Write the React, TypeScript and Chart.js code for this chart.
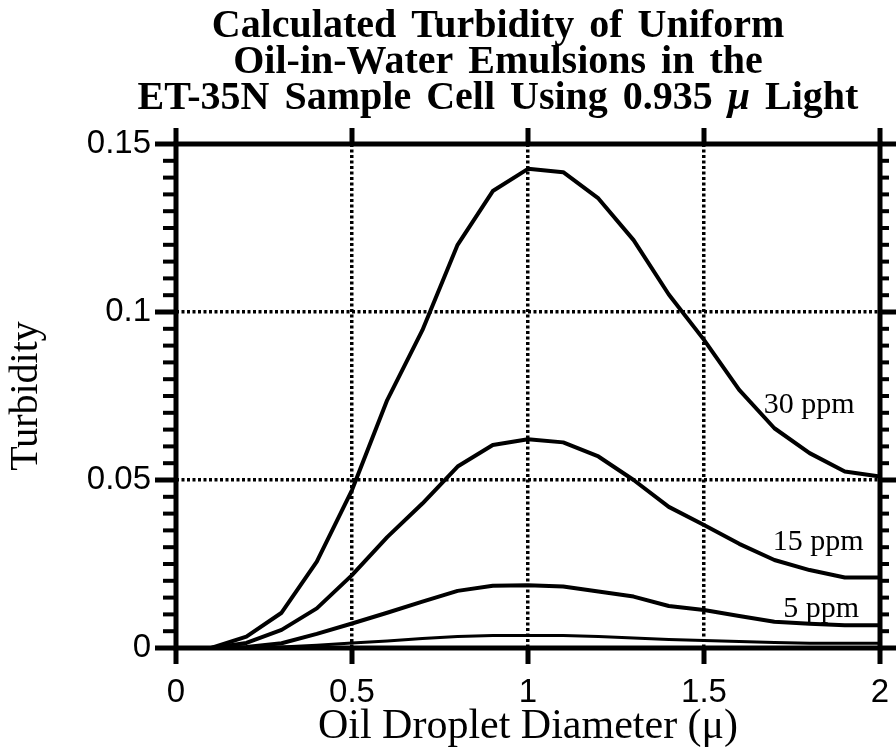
import React, { useEffect, useRef } from 'react';
import { Chart, registerables } from 'chart.js';

Chart.register(...registerables);

// ---- data ----
const titleLines = [
  'Calculated Turbidity of Uniform',
  'Oil-in-Water Emulsions in the',
  'ET-35N Sample Cell Using 0.935 μ Light',
];
const xAxisTitle = 'Oil Droplet Diameter (μ)';
const yAxisTitle = 'Turbidity';

const diameters = [0, 0.1, 0.2, 0.3, 0.4, 0.5, 0.6, 0.7, 0.8, 0.9, 1.0, 1.1, 1.2, 1.3, 1.4, 1.5, 1.6, 1.7, 1.8, 1.9, 2.0];
const ppm30 = [0, 0, 0.0034, 0.0105, 0.0257, 0.047, 0.0738, 0.0946, 0.12, 0.136, 0.1426, 0.1416, 0.1338, 0.1214, 0.1052, 0.0917, 0.0768, 0.0654, 0.058, 0.0525, 0.051];
const ppm15 = [0, 0, 0.0015, 0.0054, 0.0118, 0.0217, 0.033, 0.043, 0.054, 0.0604, 0.0621, 0.0612, 0.057, 0.05, 0.042, 0.0366, 0.031, 0.0262, 0.0232, 0.021, 0.021];
const ppm5 = [0, 0, 0.0003, 0.0014, 0.0042, 0.0073, 0.0105, 0.0138, 0.017, 0.0185, 0.0187, 0.0183, 0.0168, 0.0153, 0.0125, 0.0113, 0.0095, 0.0078, 0.0072, 0.0068, 0.0068];
const ppm1 = [0, 0, 0, 0.0003, 0.0008, 0.0015, 0.0021, 0.0028, 0.0034, 0.0037, 0.0037, 0.0037, 0.0034, 0.003, 0.0025, 0.0022, 0.0019, 0.0016, 0.0014, 0.0014, 0.0014];
const seriesNames = ['30 ppm', '15 ppm', '5 ppm', '1 ppm'];

const xTickLabels = ['0', '0.5', '1', '1.5', '2'];
const yTickLabels = ['0', '0.05', '0.1', '0.15'];

const curveLabels = ['30 ppm', '15 ppm', '5 ppm'];
const curveLabelX = [1.67, 1.695, 1.725];
const curveLabelY = [0.0699, 0.0292, 0.0092];

const SERIF = '"Liberation Serif", "Times New Roman", Times, serif';
const SANS = '"Liberation Sans", Arial, Helvetica, sans-serif';

const decorPlugin = {
  id: 'decor',
  afterDraw(chart: any) {
    const { ctx, chartArea, scales } = chart;
    const { left, right, top, bottom } = chartArea;
    const x = scales.x;
    const y = scales.y;
    ctx.save();
    ctx.fillStyle = '#000';
    ctx.strokeStyle = '#000';

    // title (μ in italic)
    const normalFont = `bold 40px ${SERIF}`;
    const italicFont = `italic bold 40px ${SERIF}`;
    ctx.textAlign = 'left';
    ctx.textBaseline = 'alphabetic';
    try { (ctx as any).wordSpacing = '5px'; } catch (e) { /* ignore */ }
    const cx = 498;
    titleLines.forEach((line, i) => {
      const parts = line.split('μ');
      const segs: { t: string; f: string }[] = [];
      parts.forEach((p, k) => {
        segs.push({ t: p, f: normalFont });
        if (k < parts.length - 1) segs.push({ t: 'μ', f: italicFont });
      });
      let total = 0;
      segs.forEach((s) => { ctx.font = s.f; total += ctx.measureText(s.t).width; });
      let px = cx - total / 2;
      const py = 37 + i * 36;
      segs.forEach((s) => {
        ctx.font = s.f;
        ctx.fillText(s.t, px, py);
        px += ctx.measureText(s.t).width;
      });
    });
    try { (ctx as any).wordSpacing = '0px'; } catch (e) { /* ignore */ }

    // y ticks (major every 0.05, minor every 0.005), left and right, outward
    for (let k = 0; k <= 30; k++) {
      const v = k * 0.005;
      const py = y.getPixelForValue(v);
      const major = k % 10 === 0;
      const lenL = major ? 21 : 13;
      const lenR = major ? 16 : 9;
      const th = major ? 5 : 4;
      ctx.fillRect(left - lenL, py - th / 2, lenL, th);
      ctx.fillRect(right, py - th / 2, lenR, th);
    }
    // x major ticks top and bottom
    for (let k = 0; k < xTickLabels.length; k++) {
      const px = x.getPixelForValue(k * 0.5);
      ctx.fillRect(px - 2.5, top - 16, 5, 16);
      ctx.fillRect(px - 2.5, bottom, 5, 16);
    }
    // frame
    ctx.lineWidth = 5;
    ctx.strokeRect(left, top, right - left, bottom - top);

    // curve labels
    ctx.font = `30px ${SERIF}`;
    ctx.textAlign = 'left';
    ctx.textBaseline = 'alphabetic';
    curveLabels.forEach((t, i) => {
      ctx.fillText(t, x.getPixelForValue(curveLabelX[i]), y.getPixelForValue(curveLabelY[i]));
    });
    ctx.restore();
  },
};

export default function App() {
  const ref = useRef<HTMLCanvasElement | null>(null);
  useEffect(() => {
    if (!ref.current) return;
    const series = [ppm30, ppm15, ppm5, ppm1];
    const widths = [4, 4, 4, 3];
    const gridColor = (max: number) => (c: any) => {
      const v = c.tick ? c.tick.value : 0;
      return Math.abs(v) < 1e-9 || Math.abs(v - max) < 1e-9 ? 'rgba(0,0,0,0)' : '#000';
    };
    const zeroPad = (s: any) => { s.paddingLeft = 0; s.paddingRight = 0; s.paddingTop = 0; s.paddingBottom = 0; };
    const chart = new Chart(ref.current, {
      type: 'line',
      data: {
        datasets: series.map((s, i) => ({
          label: seriesNames[i],
          data: diameters.map((d, j) => ({ x: d, y: s[j] })),
          borderColor: '#000',
          backgroundColor: '#000',
          borderWidth: widths[i],
          pointRadius: 0,
          tension: 0,
          fill: false,
          borderJoinStyle: 'round' as const,
        })),
      },
      options: {
        animation: false,
        responsive: false,
        layout: { padding: 0 },
        plugins: {
          legend: { display: false },
          tooltip: { enabled: false },
          title: { display: false },
        },
        scales: {
          x: {
            type: 'linear',
            position: 'bottom',
            min: 0,
            max: 2,
            ticks: {
              stepSize: 0.5,
              padding: 25,
              color: '#000',
              maxRotation: 0,
              autoSkip: false,
              font: { family: SANS, size: 33 },
              callback: (v: any) => xTickLabels[Math.round(Number(v) / 0.5)],
            },
            grid: { color: gridColor(2), lineWidth: 3.5, drawTicks: false },
            border: { display: false, dash: [3, 2.5] },
            title: {
              display: true,
              text: xAxisTitle,
              color: '#000',
              font: { family: SERIF, size: 42, lineHeight: 1.05 },
              padding: { top: 0, bottom: 1 },
            },
            afterFit: (s: any) => { s.height = 102; zeroPad(s); },
          },
          x2: {
            type: 'linear',
            position: 'top',
            min: 0,
            max: 2,
            ticks: { display: false },
            grid: { display: false },
            border: { display: false },
            afterFit: (s: any) => { s.height = 144; zeroPad(s); },
          },
          y: {
            type: 'linear',
            position: 'left',
            min: 0,
            max: 0.15,
            ticks: {
              stepSize: 0.05,
              padding: 25,
              color: '#000',
              font: { family: SANS, size: 33 },
              callback: (v: any) => yTickLabels[Math.round(Number(v) / 0.05)],
            },
            grid: { color: gridColor(0.15), lineWidth: 3.5, drawTicks: false },
            border: { display: false, dash: [3, 2.5] },
            title: {
              display: true,
              text: yAxisTitle,
              color: '#000',
              font: { family: SERIF, size: 40, lineHeight: 1.2 },
              padding: { top: 2, bottom: 0 },
            },
            afterFit: (s: any) => { s.width = 176; zeroPad(s); },
          },
          y2: {
            type: 'linear',
            position: 'right',
            min: 0,
            max: 0.15,
            ticks: { display: false },
            grid: { display: false },
            border: { display: false },
            afterFit: (s: any) => { s.width = 16; zeroPad(s); },
          },
        },
      } as any,
      plugins: [decorPlugin],
    });
    return () => chart.destroy();
  }, []);

  return (
    <div style={{ position: 'absolute', left: 0, top: 0, width: 896, height: 750, background: '#fff' }}>
      <canvas ref={ref} width={896} height={750} style={{ display: 'block' }} />
    </div>
  );
}
